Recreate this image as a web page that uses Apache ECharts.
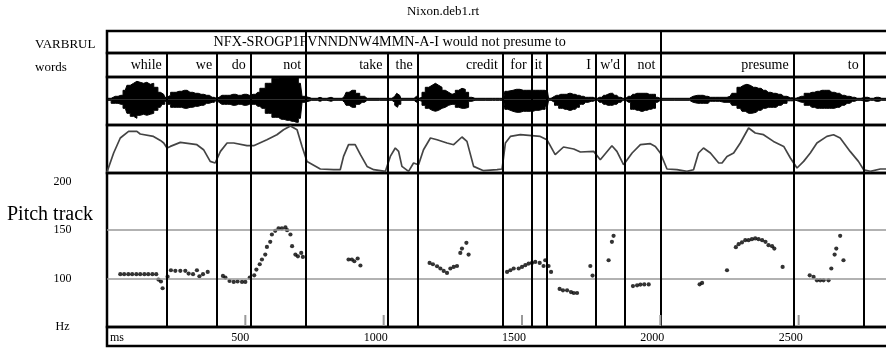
<!DOCTYPE html>
<html><head><meta charset="utf-8">
<script src="https://cdn.jsdelivr.net/npm/echarts@6/dist/echarts.min.js"></script>
<style>html,body{margin:0;padding:0;background:#fff;overflow:hidden;width:886px;height:349px}#c{width:900px;height:349px}</style>
</head><body><div id="c"></div>
<script>
// ---------- data ----------
const chartTitle = 'Nixon.deb1.rt';
const varbrulText = 'NFX-SROGP1FVNNDNW4MMN-A-I would not presume to';
const varbrulSpan = [0, 2000];            // ms
const varbrulBounds = [720, 2000];        // ms
const words =     ['while','we','do','not','take','the','credit','for','it','I',"w'd",'not','presume','to'];
const wordStart = [0, 216, 398, 520, 720, 1014, 1123, 1431, 1535, 1591, 1767, 1872, 2000, 2482];
const wordEnd =   [216, 398, 520, 720, 1014, 1123, 1431, 1535, 1591, 1767, 1872, 2000, 2482, 2735];
const wordBounds = [216, 398, 520, 720, 1014, 1123, 1431, 1535, 1591, 1767, 1872, 2000, 2482, 2735];
// waveform envelope: [ms, top, bottom]
const wavePoints = [[0,1,-1],[30,3,-4],[50,4,-5],[66,9,-9],[78,14,-14],[90,16,-17],[102,18,-19],[114,17,-16],[126,16,-15],[138,17,-16],[150,15,-15],[163,16,-14],[175,12,-11],[193,7,-8],[205,5,-5],[213,2,-2],[220,4,-5],[240,7,-8],[260,8,-8],[280,9,-9],[300,7,-8],[320,6,-7],[340,5,-6],[360,4,-4],[380,2,-3],[395,1,-1],[405,2,-3],[415,4,-5],[435,4,-5],[455,5,-6],[475,4,-5],[495,5,-6],[515,4,-5],[528,5,-5],[545,7,-7],[560,11,-9],[584,16,-14],[608,21,-18],[630,22,-20],[650,22,-21],[668,22,-22],[684,22,-23],[699,16,-19],[711,3,-3],[720,1,-1],[760,1,-1],[770,2,-2],[780,1,-1],[810,2,-2],[820,1,-1],[850,1,-1],[858,3,-3],[870,7,-6],[880,9,-8],[892,9,-8],[905,6,-5],[922,3,-3],[940,1,-1],[1030,1,-1],[1036,3,-3],[1044,5,-6],[1050,6,-8],[1058,4,-5],[1066,1,-1],[1110,1,-1],[1115,3,-3],[1122,1,-1],[1133,2,-2],[1144,7,-6],[1157,12,-9],[1169,14,-11],[1181,16,-12],[1193,14,-11],[1205,12,-9],[1217,9,-8],[1229,7,-6],[1241,5,-5],[1253,6,-5],[1265,9,-8],[1277,11,-9],[1289,10,-9],[1301,7,-8],[1313,2,-2],[1325,1,-1],[1335,2,-2],[1340,1,-1],[1394,1,-1],[1398,2,-2],[1404,1,-1],[1434,1,-1],[1442,8,-10],[1455,9,-12],[1480,10,-13],[1505,9,-12],[1530,9,-12],[1550,9,-11],[1575,9,-10],[1592,8,-7],[1600,1,-1],[1610,3,-3],[1625,4,-6],[1640,5,-9],[1655,5,-10],[1670,6,-11],[1685,5,-10],[1700,4,-8],[1715,3,-5],[1730,2,-3],[1750,2,-2],[1765,1,-1],[1780,2,-3],[1795,4,-5],[1810,5,-6],[1820,6,-6],[1835,4,-5],[1850,2,-3],[1865,1,-1],[1885,3,-3],[1900,5,-10],[1915,6,-11],[1930,6,-12],[1945,6,-11],[1960,5,-10],[1975,5,-9],[1990,2,-3],[2000,1,-1],[2105,1,-1],[2112,3,-3],[2125,4,-4],[2145,4,-4],[2165,3,-4],[2180,2,-2],[2200,2,-2],[2230,2,-3],[2252,3,-3],[2265,6,-6],[2289,12,-9],[2301,14,-12],[2313,15,-14],[2325,14,-14],[2337,12,-13],[2355,11,-11],[2373,9,-9],[2390,7,-8],[2409,6,-8],[2428,5,-6],[2446,3,-4],[2470,1.5,-1.5],[2490,1,-1],[2500,2,-2],[2510,3,-3],[2530,6,-6],[2548,7,-8],[2566,8,-9],[2584,9,-9],[2602,9,-9],[2620,7,-9],[2639,6,-8],[2657,4,-6],[2675,3,-4],[2695,2,-2],[2711,1,-1],[2740,2,-2],[2760,1,-1],[2780,2,-2],[2800,1,-1],[2850,1,-1]];
// amplitude contour: [ms, level]
const contourPoints = [[0,1],[2,1.6],[24,20],[48,35],[78,41.6],[108,41.6],[120,39],[168,36.6],[193,32.6],[205,30],[217,25],[229,26.6],[265,30.6],[325,28.3],[349,23.3],[373,11.6],[391,10],[410,21.6],[434,30],[458,30],[506,27.3],[530,27.3],[578,33.3],[614,38.3],[638,43.3],[663,47],[687,43.3],[705,26.6],[723,11.6],[771,4],[819,3.3],[843,3.3],[855,16.6],[873,28.3],[897,28.3],[916,18.3],[940,6.6],[964,3.3],[1006,1.6],[1024,16.6],[1042,25],[1054,21.6],[1066,6.6],[1090,1.6],[1108,10],[1126,8.3],[1144,23.3],[1169,35],[1193,33.3],[1229,30],[1253,28.3],[1283,36],[1301,31.6],[1325,6.6],[1361,2.3],[1410,3.3],[1428,4],[1440,30],[1458,36.6],[1494,38.3],[1566,36.6],[1590,33.3],[1620,18.3],[1650,26],[1687,24],[1711,21],[1759,21.6],[1783,13.3],[1825,27.3],[1843,21.6],[1867,8.3],[1898,20],[1928,28.3],[1964,29.3],[1982,26.6],[2000,20],[2024,4],[2060,3.3],[2096,1.6],[2120,3.3],[2138,20],[2156,25],[2181,20],[2211,10],[2223,10],[2241,16.6],[2265,20],[2289,30],[2319,45],[2343,40],[2373,38.3],[2409,31.6],[2446,26.6],[2470,15],[2494,5],[2518,11.6],[2542,20],[2566,30],[2602,36.6],[2626,38.3],[2650,35],[2686,21.6],[2716,11.6],[2735,3.3],[2759,1.6],[2795,4],[2850,4]];
// pitch track: [ms, Hz]
const pitchPoints = [[48,104.5],[62,104.5],[77,104.5],[91,104.5],[106,104.5],[120,104.5],[135,104.5],[149,104.5],[164,104.5],[178,104.5],[186,99],[195,97],[201,90],[219,102],
[231,108.6],[247,108],[265,108],[283,108],[295,105.2],[311,104.5],[325,108.6],[334,102.4],[347,104.5],[364,106.9],
[419,102.7],[428,101],[443,97.5],[458,96.5],[472,97],[488,96.5],[500,96.5],
[516,101],[532,103.4],[540,109.3],[552,114.8],[560,119.7],[572,124.8],[578,132.7],[590,137.9],[596,145.5],[608,149.3],[620,151.8],[632,151.8],[645,152.8],[651,150],[663,145.5],[669,133.4],[681,124.8],[690,123],[702,126.5],[708,122.4],
[873,119.7],[885,119.7],[894,117.9],[906,120.7],[916,113.5],
[1166,116.2],[1178,114.8],[1193,112.7],[1205,110.4],[1217,107.9],[1229,105.8],[1241,110.4],[1253,112],[1265,113],[1277,126.5],[1283,131],[1299,136.9],[1307,124.8],
[1446,106.9],[1458,108.6],[1470,110.4],[1488,110.4],[1500,112],[1512,113.8],[1524,115.5],[1536,116.2],[1548,117.2],[1564,116.2],[1578,113],[1584,118.9],[1596,113],[1605,106.9],
[1636,89.3],[1648,87.9],[1663,87.9],[1677,86.1],[1687,85.1],[1699,85.1],[1747,113],[1755,103.1],
[1813,118.9],[1825,137.9],[1831,144.1],
[1901,92.3],[1916,93],[1928,93.8],[1942,94],[1958,94],
[2142,94.1],[2151,95.5],[2241,108.6],[2273,132.4],[2283,135.5],[2295,137.3],[2307,139.6],[2319,139.6],[2331,140.7],[2343,141.4],[2355,140.7],[2368,139.6],[2380,137.9],[2391,134.5],[2404,133.4],[2412,131],[2442,112],
[2540,103.4],[2554,101.7],[2566,98.2],[2578,98.2],[2590,98.2],[2608,98.2],[2618,110.4],[2630,124.8],[2636,131],[2650,144.1],[2662,118.9]];
const pitchGuides = [100, 150];
const pitchTicks = [100, 150, 200];
const pitchUnit = 'Hz';
const timeTicks = [500, 1000, 1500, 2000, 2500];
const timeUnit = 'ms';

// ---------- chart ----------
const FONT = '"Liberation Serif","Times New Roman",serif';
const T_MAX = 2850;
const LEFT = 107, WIDTH = 788.5;
const rows = [[31,22],[53,24],[77,48],[125,48],[173,154],[327,19]];
const grids = rows.map(r => ({left: LEFT, width: WIDTH, top: r[0], height: r[1], show: true,
  borderColor: '#000', borderWidth: 2.5, backgroundColor: 'transparent', containLabel: false, outerBoundsMode: 'none'}));
const xAxes = rows.map((r, i) => ({type: 'value', gridIndex: i, min: 0, max: T_MAX, show: false}));
const yAxes = [
  {type:'value', gridIndex:0, min:0, max:1, show:false},
  {type:'value', gridIndex:1, min:0, max:1, show:false},
  {type:'value', gridIndex:2, min:-25.7, max:22.3, show:false},
  {type:'value', gridIndex:3, min:0, max:48, show:false},
  {type:'value', gridIndex:4, min:50, max:209, interval:50, show:true,
    axisLine:{show:false}, axisTick:{show:false}, splitLine:{show:false},
    axisLabel:{show:true, margin:44.5, align:'center', verticalAlign:'middle', padding:[6,0,0,0],
      fontSize:12, fontFamily:FONT, color:'#000',
      formatter: v => v === 50 ? pitchUnit : (pitchTicks.includes(v) ? String(v) : '')}},
  {type:'value', gridIndex:5, min:0, max:1, show:false}
];
const vLine = (vals) => ({symbol:'none', silent:true, animation:false, label:{show:false},
  emphasis:{disabled:true}, lineStyle:{color:'#000', width:2, type:'solid'},
  data: vals.map(v => ({xAxis: v}))});

const series = [
  // VARBRUL row
  {type:'custom', xAxisIndex:0, yAxisIndex:0, data:[[varbrulSpan[0], varbrulSpan[1]]],
    renderItem:(p, api) => {
      const a = api.coord([api.value(0), 0.5]), b = api.coord([api.value(1), 0.5]);
      return {type:'text', x:(a[0]+b[0])/2 + 6, y:a[1],
        style:{text:varbrulText, align:'center', verticalAlign:'middle', fontSize:14.2, fontFamily:FONT, fill:'#000'}};
    }, markLine: vLine(varbrulBounds)},
  // words row
  {type:'custom', xAxisIndex:1, yAxisIndex:1, data: wordStart.map((s, i) => [s, wordEnd[i]]),
    renderItem:(p, api) => {
      const b = api.coord([api.value(1), 0.5]);
      return {type:'text', x:b[0] - 5, y:b[1],
        style:{text:words[p.dataIndex], align:'right', verticalAlign:'middle', fontSize:14, fontFamily:FONT, fill:'#000'}};
    }, markLine: vLine(wordBounds)},
  // waveform
  {type:'line', xAxisIndex:2, yAxisIndex:2, data: wavePoints.map(d => [d[0], d[1]]), symbol:'none', step:'middle',
    lineStyle:{color:'#000', width:1}, areaStyle:{color:'#000', opacity:1, origin:'auto'}, animation:false,
    markLine: vLine(wordBounds)},
  {type:'line', xAxisIndex:2, yAxisIndex:2, data: wavePoints.map(d => [d[0], d[2]]), symbol:'none', step:'middle',
    lineStyle:{color:'#000', width:1}, areaStyle:{color:'#000', opacity:1, origin:'auto'}, animation:false},
  // contour
  {type:'line', xAxisIndex:3, yAxisIndex:3, data: contourPoints, symbol:'none',
    lineStyle:{color:'#444', width:1.7}, animation:false, markLine: vLine(wordBounds)},
  // pitch
  {type:'scatter', xAxisIndex:4, yAxisIndex:4, data: pitchPoints, symbol:'circle', symbolSize:4.2,
    itemStyle:{color:'#000'}, animation:false,
    markLine:{symbol:'none', silent:true, animation:false, label:{show:false}, emphasis:{disabled:true},
      data: pitchGuides.map(v => ({yAxis: v, lineStyle:{color:'#999', width:1.5, type:'solid'}}))
        .concat(wordBounds.map(v => ({xAxis: v, lineStyle:{color:'#000', width:2, type:'solid'}})))}},
  // time ticks inside pitch panel
  {type:'custom', xAxisIndex:4, yAxisIndex:4, data: timeTicks.map(t => [t, 50]), z:5,
    renderItem:(p, api) => {
      const c = api.coord([api.value(0), api.value(1)]);
      return {type:'line', shape:{x1:c[0], y1:c[1]-1, x2:c[0], y2:c[1]-12},
        style:{stroke:'#999', lineWidth:2}};
    }},
  // time labels row
  {type:'custom', xAxisIndex:5, yAxisIndex:5, data: [[0, 0.5]].concat(timeTicks.map(t => [t, 0.5])),
    renderItem:(p, api) => {
      const c = api.coord([api.value(0), 0.5]);
      const first = p.dataIndex === 0;
      return {type:'text', x: first ? c[0] + 3 : c[0] + 4, y: c[1] + 1.5,
        style:{text: first ? timeUnit : String(api.value(0)), align: first ? 'left' : 'right',
          verticalAlign:'middle', fontSize:12, fontFamily:FONT, fill:'#000'}};
    }}
];

const chart = echarts.init(document.getElementById('c'), null, {renderer:'canvas'});
chart.setOption({
  animation:false,
  backgroundColor:'#fff',
  grid: grids, xAxis: xAxes, yAxis: yAxes, series: series,
  graphic:[
    {type:'text', x:443, y:12, style:{text:chartTitle, fontSize:13, fontFamily:FONT, fill:'#000', align:'center', verticalAlign:'middle'}},
    {type:'text', x:35, y:45, style:{text:'VARBRUL', fontSize:13, fontFamily:FONT, fill:'#000', verticalAlign:'middle'}},
    {type:'text', x:35, y:68, style:{text:'words', fontSize:13, fontFamily:FONT, fill:'#000', verticalAlign:'middle'}},
    {type:'text', x:7, y:215, style:{text:'Pitch track', fontSize:20, fontFamily:FONT, fill:'#000', verticalAlign:'middle'}}
  ]
});
</script></body></html>
